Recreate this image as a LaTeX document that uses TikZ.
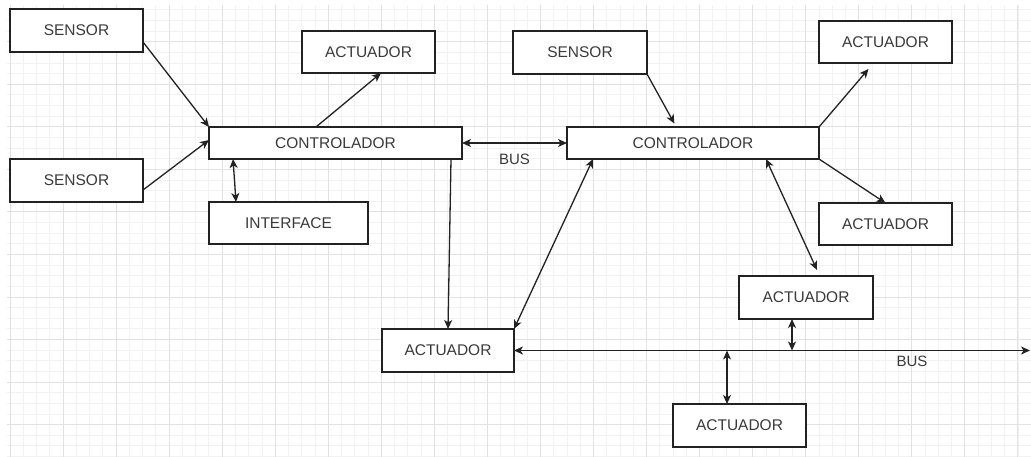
\documentclass[tikz,border=0pt]{standalone}
\usepackage{fontspec}
\setmainfont{Liberation Sans}
\usetikzlibrary{arrows.meta,calc}
\definecolor{gridmajor}{HTML}{E2E2E2}
\definecolor{gridminor}{HTML}{F2F2F2}
\definecolor{edge}{HTML}{222222}
\definecolor{label}{HTML}{3A3A3A}
\tikzset{
  box/.style={draw=edge, line width=1.3pt, fill=white, inner sep=0pt, outer sep=0pt,
    font=\fontsize{15.5}{18}\selectfont, text=label},
  sz/.style 2 args={minimum width=#1pt, minimum height=#2pt},
  link/.style={draw=edge, line width=1.3pt, -{Stealth[length=9pt,width=8pt,inset=2.5pt]}},
  dlink/.style={draw=edge, line width=1.3pt, {Stealth[length=9pt,width=8pt,inset=2.5pt]}-{Stealth[length=9pt,width=8pt,inset=2.5pt]}},
  tag/.style={font=\fontsize{15}{18}\selectfont, text=label, inner sep=0pt}
}
\begin{document}
\begin{tikzpicture}[x=1pt,y=-1pt]
\useasboundingbox (0,0) rectangle (1031,457);
\fill[white] (0,0) rectangle (1031,457);

% background grid
\begin{scope}
  \clip (7,5) rectangle (1031,457);
  \foreach \i in {0,...,77}
    \draw[gridminor, line width=0.9pt] ({10+13.2625*\i},5) -- ({10+13.2625*\i},457);
  \foreach \j in {-3,...,39}
    \draw[gridminor, line width=0.9pt] (7,{41.7+10.6375*\j}) -- (1031,{41.7+10.6375*\j});
  \foreach \i in {0,...,19}
    \draw[gridmajor, line width=1pt] ({10+53.05*\i},5) -- ({10+53.05*\i},457);
  \foreach \j in {0,...,9}
    \draw[gridmajor, line width=1pt] (7,{41.7+42.55*\j}) -- (1031,{41.7+42.55*\j});
\end{scope}

% blocks
\node[box, sz={133}{43}] (s1) at (76.5,30.5) {SENSOR};
\node[box, sz={133}{43}] (s2) at (76.5,180.5) {SENSOR};
\node[box, sz={133}{42}] (a1) at (368.5,52) {ACTUADOR};
\node[box, sz={253}{32}] (c1) at (335.5,143) {CONTROLADOR};
\node[box, sz={159}{42}] (in) at (288.5,223) {INTERFACE};
\node[box, sz={134}{43}] (s3) at (580,52.5) {SENSOR};
\node[box, sz={133}{42}] (a2) at (885.5,42) {ACTUADOR};
\node[box, sz={252}{32}] (c2) at (693,143) {CONTROLADOR};
\node[box, sz={133}{42}] (a3) at (885.5,224) {ACTUADOR};
\node[box, sz={134}{43}] (a4) at (806,297.5) {ACTUADOR};
\node[box, sz={132}{43}] (a5) at (448,350.5) {ACTUADOR};
\node[box, sz={133}{43}] (a6) at (739.5,425.5) {ACTUADOR};

% bus end and taps
\coordinate (busend) at (1030,350.5);
\coordinate (tapA) at (792,350.5);
\coordinate (tapB) at (727,350.5);

% left controller
\draw[link] ([yshift=-11.5pt]s1.east) -- (c1.north west);
\draw[link] ([yshift=-9.5pt]s2.east) -- ([yshift=3pt]c1.west);
\draw[link] ([xshift=-19.5pt]c1.north) -- ([xshift=12.5pt]a1.south);
\draw[dlink] ([xshift=24pt]c1.south west) -- ([xshift=27pt]in.north west);
\draw[link] ([xshift=115.5pt]c1.south) -- (a5.north);

% link between controllers
\draw[dlink] (c1.east) -- (c2.west);
\node[tag] (bus1) at (514.5,159) {BUS};

% right controller
\draw[link] (s3.south east) -- ([shift={(-18.6pt,3.4pt)}]c2.north);
\draw[link] (c2.north east) -- ([shift={(-17pt,-6pt)}]a2.south);
\draw[link] (c2.south east) -- (a3.north);
\draw[dlink] ([xshift=73pt]c2.south) -- ([shift={(11pt,6pt)}]a4.north);
\draw[dlink] (a5.north east) -- ([xshift=-100pt]c2.south);

% field bus
\draw[dlink] (a5.east) -- (busend);
\draw[dlink] ([xshift=-14pt]a4.south) -- (tapA);
\draw[dlink] (tapB) -- ([xshift=-12.5pt]a6.north);
\node[tag] (bus2) at (912,361) {BUS};
\end{tikzpicture}
\end{document}
